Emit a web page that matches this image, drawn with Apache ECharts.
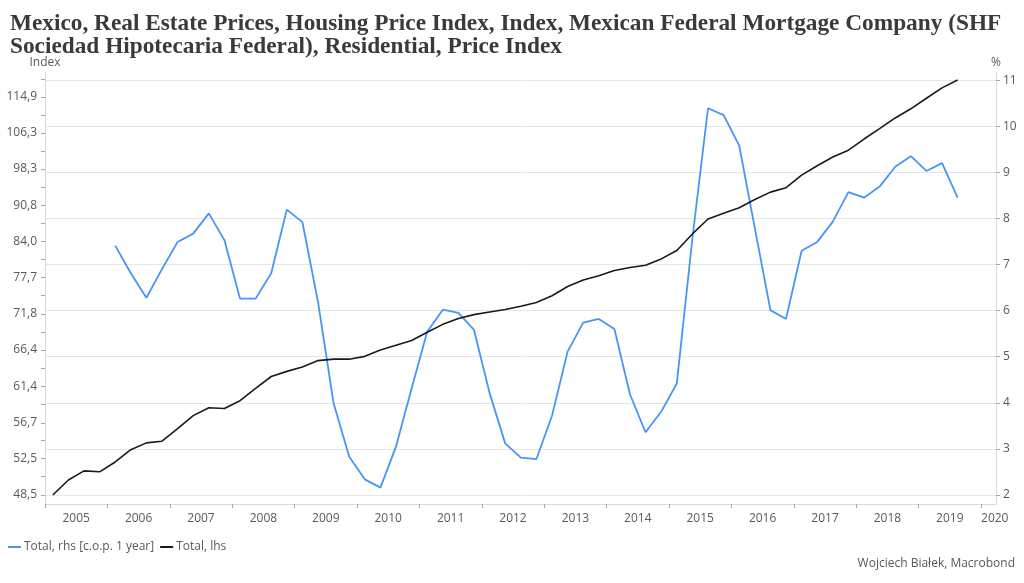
<!DOCTYPE html>
<html><head><meta charset="utf-8">
<script src="https://cdn.jsdelivr.net/npm/echarts@6/dist/echarts.min.js"></script>
<style>html,body{margin:0;padding:0;background:#fff}#c{width:1024px;height:583px}</style>
</head><body><div id="c"></div>
<script>
// Quarterly periods (categories)
const quarters = [
 '2005Q1','2005Q2','2005Q3','2005Q4','2006Q1','2006Q2','2006Q3','2006Q4',
 '2007Q1','2007Q2','2007Q3','2007Q4','2008Q1','2008Q2','2008Q3','2008Q4',
 '2009Q1','2009Q2','2009Q3','2009Q4','2010Q1','2010Q2','2010Q3','2010Q4',
 '2011Q1','2011Q2','2011Q3','2011Q4','2012Q1','2012Q2','2012Q3','2012Q4',
 '2013Q1','2013Q2','2013Q3','2013Q4','2014Q1','2014Q2','2014Q3','2014Q4',
 '2015Q1','2015Q2','2015Q3','2015Q4','2016Q1','2016Q2','2016Q3','2016Q4',
 '2017Q1','2017Q2','2017Q3','2017Q4','2018Q1','2018Q2','2018Q3','2018Q4',
 '2019Q1','2019Q2','2019Q3'
];
// Total, lhs (index level)
const totalLhs = [
 48.5,50.1,51.1,51.0,52.1,53.5,54.3,54.5,
 56.0,57.6,58.6,58.5,59.5,61.1,62.7,63.4,
 64.0,64.9,65.1,65.1,65.5,66.4,67.1,67.8,
 69.0,70.2,71.1,71.7,72.1,72.5,73.0,73.6,
 74.7,76.2,77.3,78.0,78.9,79.4,79.8,80.9,
 82.4,85.4,88.2,89.3,90.4,92.0,93.5,94.4,
 97.0,99.0,100.9,102.4,104.9,107.3,109.8,112.0,
 114.6,117.2,119.2
];
// Total, rhs [c.o.p. 1 year] (%), starts 2006Q1
const rhsStart = '2006Q1';
const totalRhs = [
 7.41,6.81,6.28,6.90,
 7.49,7.67,8.11,7.53,6.26,6.26,6.81,8.19,
 7.92,6.19,3.99,2.83,2.34,2.16,3.05,4.31,
 5.54,6.02,5.95,5.58,4.21,3.12,2.81,2.78,
 3.72,5.11,5.74,5.82,5.60,4.18,3.36,3.81,
 4.42,7.57,10.39,10.24,9.58,7.79,6.01,5.82,
 7.30,7.49,7.93,8.57,8.45,8.69,9.12,9.35,
 9.03,9.20,8.45
];
// Axis tick labels
const leftTicks = [48.5,52.5,56.7,61.4,66.4,71.8,77.7,84.0,90.8,98.3,106.3,114.9];
const rightTicks = [2,3,4,5,6,7,8,9,10,11];
const yearTicks = [2005,2006,2007,2008,2009,2010,2011,2012,2013,2014,2015,2016,2017,2018,2019,2020];
const yearLabels = ['2005','2006','2007','2008','2009','2010','2011','2012','2013','2014','2015','2016','2017','2018','2019','2020'];

const xMin = 2005, xMax = 2020.24;
function qPos(q){ const y = +q.slice(0,4), n = +q.slice(5); return y + (n - 0.5) / 4; }
const blackData = quarters.map((q,i)=>[qPos(q), totalLhs[i]]);
const s0 = quarters.indexOf(rhsStart);
const blueData = totalRhs.map((v,i)=>[qPos(quarters[s0+i]), v]);

const labelPos = yearTicks.map((y,i)=> i < yearTicks.length-1 ? y + 0.5 : y + 0.22);
const leftMinor = [];
for (let i=0;i<leftTicks.length-1;i++) leftMinor.push(Math.sqrt(leftTicks[i]*leftTicks[i+1]));
leftMinor.push(Math.sqrt(leftTicks[leftTicks.length-1]*leftTicks[leftTicks.length-1]*1.08));

const FONT = 'Open Sans';
const GRAY = '#595959';
const chart = echarts.init(document.getElementById('c'), null, {renderer:'canvas'});
chart.setOption({
  animation:false,
  backgroundColor:'#fff',
  title:{
    text:'Mexico, Real Estate Prices, Housing Price Index, Index, Mexican Federal Mortgage Company (SHF\nSociedad Hipotecaria Federal), Residential, Price Index',
    left:5, top:7,
    textStyle:{fontFamily:'Liberation Serif', fontWeight:'bold', fontSize:23.3, lineHeight:23.5, color:'#3a3a3a'}
  },
  graphic:[{type:'text', right:9, top:558, style:{text:'Wojciech Białek, Macrobond', fontFamily:FONT, fontSize:12, fill:GRAY}}],
  legend:{
    left:3, top:536, itemGap:6, itemWidth:13, itemHeight:2, icon:'rect',
    textStyle:{fontFamily:FONT, fontSize:12, color:GRAY, padding:[0,0,0,-2]},
    data:['Total, rhs [c.o.p. 1 year]','Total, lhs']
  },
  grid:{left:45, right:28, top:72, bottom:79, outerBoundsMode:'none', containLabel:false},
  xAxis:{
    type:'value', min:xMin, max:xMax,
    axisLine:{show:true, lineStyle:{color:'#d9d9d9'}},
    axisTick:{show:true, length:4, customValues:yearTicks, lineStyle:{color:'#a6a6a6'}},
    axisLabel:{customValues:labelPos, margin:9, fontFamily:FONT, fontSize:12, color:GRAY,
      formatter:(v)=> yearLabels[labelPos.findIndex(p=>Math.abs(p-v)<1e-6)]},
    splitLine:{show:false}
  },
  yAxis:[
    {type:'log', logBase:10, min:47.563, max:121.3, position:'left',
     name:'Index', nameLocation:'end', nameGap:3,
     nameTextStyle:{fontFamily:FONT, fontSize:12, color:GRAY, align:'center'},
     axisLine:{show:true, lineStyle:{color:'#d9d9d9'}},
     axisTick:{show:true, length:4, customValues:leftTicks.concat(leftMinor), lineStyle:{color:'#a6a6a6'}},
     axisLabel:{customValues:leftTicks, margin:8, fontFamily:FONT, fontSize:12, color:GRAY,
       formatter:(v)=> (Math.round(v*10)/10).toFixed(1).replace('.',',')},
     splitLine:{show:false}},
    {type:'value', min:1.805, max:11.176, position:'right',
     name:'%', nameLocation:'end', nameGap:3,
     nameTextStyle:{fontFamily:FONT, fontSize:12, color:GRAY, align:'center'},
     axisLine:{show:true, lineStyle:{color:'#d9d9d9'}},
     axisTick:{show:true, length:4, customValues:rightTicks, lineStyle:{color:'#a6a6a6'}},
     axisLabel:{customValues:rightTicks, margin:7, fontFamily:FONT, fontSize:12, color:GRAY},
     splitLine:{show:true, lineStyle:{color:'#e6e6e6', width:1}}}
  ],
  series:[
    {name:'Total, rhs [c.o.p. 1 year]', type:'line', yAxisIndex:1, data:blueData,
     showSymbol:false, color:'#4795f7', lineStyle:{width:1.8, color:'#4795f7'}},
    {name:'Total, lhs', type:'line', yAxisIndex:0, data:blackData,
     showSymbol:false, color:'#1a1a1a', lineStyle:{width:1.6, color:'#1a1a1a'}}
  ]
});
</script></body></html>
